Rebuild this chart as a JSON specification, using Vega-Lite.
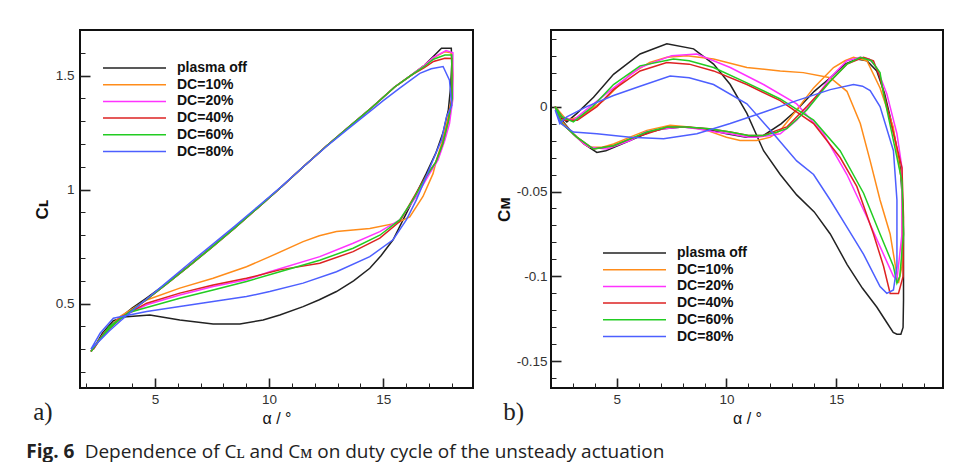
{
  "$schema": "https://vega.github.io/schema/vega-lite/v6.json",
  "background": "white",
  "padding": {"left": 26, "top": 29, "right": 0, "bottom": 0},
  "bounds": "flush",
  "spacing": 78,
  "title": {
    "text": "Fig. 6",
    "subtitle": "\u2800\u00a0\u00a0\u00a0\u00a0\u00a0\u00a0\u00a0\u00a0\u00a0Dependence of C\u029f and C\u1d0d on duty cycle of the unsteady actuation",
    "orient": "bottom", "anchor": "start", "frame": "bounds",
    "font": "Open Sans", "fontSize": 19, "fontWeight": "bold", "color": "#222",
    "subtitleFont": "Open Sans", "subtitleFontSize": 19, "subtitleFontWeight": "normal", "subtitleColor": "#222",
    "subtitlePadding": -19, "dx": -6, "offset": 15
  },
  "datasets": {
    "cl": [
      {"s":"plasma off","i":0,"a":2.2,"v":0.29},{"s":"plasma off","i":1,"a":2.6,"v":0.348},{"s":"plasma off","i":2,"a":3.0,"v":0.395},{"s":"plasma off","i":3,"a":3.5,"v":0.44},{"s":"plasma off","i":4,"a":4.0,"v":0.48},{"s":"plasma off","i":5,"a":4.6,"v":0.522},{"s":"plasma off","i":6,"a":5.5,"v":0.588},{"s":"plasma off","i":7,"a":6.5,"v":0.667},{"s":"plasma off","i":8,"a":7.5,"v":0.749},{"s":"plasma off","i":9,"a":8.5,"v":0.833},{"s":"plasma off","i":10,"a":9.5,"v":0.92},{"s":"plasma off","i":11,"a":10.5,"v":1.008},{"s":"plasma off","i":12,"a":11.5,"v":1.1},{"s":"plasma off","i":13,"a":12.5,"v":1.19},{"s":"plasma off","i":14,"a":13.5,"v":1.275},{"s":"plasma off","i":15,"a":14.5,"v":1.36},{"s":"plasma off","i":16,"a":15.5,"v":1.45},{"s":"plasma off","i":17,"a":16.2,"v":1.5},{"s":"plasma off","i":18,"a":16.8,"v":1.545},{"s":"plasma off","i":19,"a":17.2,"v":1.585},{"s":"plasma off","i":20,"a":17.55,"v":1.62},{"s":"plasma off","i":21,"a":17.98,"v":1.62},{"s":"plasma off","i":22,"a":18.0,"v":1.55},{"s":"plasma off","i":23,"a":17.95,"v":1.45},{"s":"plasma off","i":24,"a":17.85,"v":1.35},{"s":"plasma off","i":25,"a":17.62,"v":1.25},{"s":"plasma off","i":26,"a":17.3,"v":1.16},{"s":"plasma off","i":27,"a":16.88,"v":1.07},{"s":"plasma off","i":28,"a":16.45,"v":0.984},{"s":"plasma off","i":29,"a":16.01,"v":0.896},{"s":"plasma off","i":30,"a":15.43,"v":0.78},{"s":"plasma off","i":31,"a":14.9,"v":0.71},{"s":"plasma off","i":32,"a":14.41,"v":0.655},{"s":"plasma off","i":33,"a":13.7,"v":0.6},{"s":"plasma off","i":34,"a":12.95,"v":0.553},{"s":"plasma off","i":35,"a":12.2,"v":0.517},{"s":"plasma off","i":36,"a":11.49,"v":0.487},{"s":"plasma off","i":37,"a":10.47,"v":0.45},{"s":"plasma off","i":38,"a":9.74,"v":0.428},{"s":"plasma off","i":39,"a":8.72,"v":0.411},{"s":"plasma off","i":40,"a":7.55,"v":0.411},{"s":"plasma off","i":41,"a":6.09,"v":0.428},{"s":"plasma off","i":42,"a":4.78,"v":0.45},{"s":"plasma off","i":43,"a":3.76,"v":0.443},{"s":"plasma off","i":44,"a":3.18,"v":0.425},{"s":"plasma off","i":45,"a":2.7,"v":0.37},{"s":"plasma off","i":46,"a":2.3,"v":0.3},
      {"s":"DC=10%","i":0,"a":2.2,"v":0.29},{"s":"DC=10%","i":1,"a":2.6,"v":0.345},{"s":"DC=10%","i":2,"a":3.0,"v":0.39},{"s":"DC=10%","i":3,"a":3.5,"v":0.435},{"s":"DC=10%","i":4,"a":4.0,"v":0.472},{"s":"DC=10%","i":5,"a":4.6,"v":0.515},{"s":"DC=10%","i":6,"a":5.5,"v":0.585},{"s":"DC=10%","i":7,"a":6.5,"v":0.665},{"s":"DC=10%","i":8,"a":7.5,"v":0.748},{"s":"DC=10%","i":9,"a":8.5,"v":0.832},{"s":"DC=10%","i":10,"a":9.5,"v":0.92},{"s":"DC=10%","i":11,"a":10.5,"v":1.008},{"s":"DC=10%","i":12,"a":11.5,"v":1.1},{"s":"DC=10%","i":13,"a":12.5,"v":1.19},{"s":"DC=10%","i":14,"a":13.5,"v":1.275},{"s":"DC=10%","i":15,"a":14.5,"v":1.36},{"s":"DC=10%","i":16,"a":15.5,"v":1.45},{"s":"DC=10%","i":17,"a":16.2,"v":1.5},{"s":"DC=10%","i":18,"a":16.8,"v":1.545},{"s":"DC=10%","i":19,"a":17.2,"v":1.578},{"s":"DC=10%","i":20,"a":17.7,"v":1.605},{"s":"DC=10%","i":21,"a":17.98,"v":1.6},{"s":"DC=10%","i":22,"a":18.05,"v":1.5},{"s":"DC=10%","i":23,"a":18.0,"v":1.4},{"s":"DC=10%","i":24,"a":17.8,"v":1.3},{"s":"DC=10%","i":25,"a":17.55,"v":1.2},{"s":"DC=10%","i":26,"a":17.33,"v":1.13},{"s":"DC=10%","i":27,"a":17.18,"v":1.07},{"s":"DC=10%","i":28,"a":16.74,"v":0.97},{"s":"DC=10%","i":29,"a":16.16,"v":0.88},{"s":"DC=10%","i":30,"a":15.58,"v":0.853},{"s":"DC=10%","i":31,"a":14.41,"v":0.83},{"s":"DC=10%","i":32,"a":12.95,"v":0.816},{"s":"DC=10%","i":33,"a":12.2,"v":0.798},{"s":"DC=10%","i":34,"a":11.49,"v":0.772},{"s":"DC=10%","i":35,"a":10.03,"v":0.706},{"s":"DC=10%","i":36,"a":9.01,"v":0.662},{"s":"DC=10%","i":37,"a":7.55,"v":0.611},{"s":"DC=10%","i":38,"a":6.09,"v":0.568},{"s":"DC=10%","i":39,"a":4.64,"v":0.516},{"s":"DC=10%","i":40,"a":3.5,"v":0.445},{"s":"DC=10%","i":41,"a":2.8,"v":0.375},{"s":"DC=10%","i":42,"a":2.3,"v":0.3},
      {"s":"DC=20%","i":0,"a":2.2,"v":0.29},{"s":"DC=20%","i":1,"a":2.6,"v":0.345},{"s":"DC=20%","i":2,"a":3.0,"v":0.39},{"s":"DC=20%","i":3,"a":3.5,"v":0.435},{"s":"DC=20%","i":4,"a":4.0,"v":0.472},{"s":"DC=20%","i":5,"a":4.6,"v":0.515},{"s":"DC=20%","i":6,"a":5.5,"v":0.585},{"s":"DC=20%","i":7,"a":6.5,"v":0.665},{"s":"DC=20%","i":8,"a":7.5,"v":0.748},{"s":"DC=20%","i":9,"a":8.5,"v":0.832},{"s":"DC=20%","i":10,"a":9.5,"v":0.92},{"s":"DC=20%","i":11,"a":10.5,"v":1.008},{"s":"DC=20%","i":12,"a":11.5,"v":1.1},{"s":"DC=20%","i":13,"a":12.5,"v":1.19},{"s":"DC=20%","i":14,"a":13.5,"v":1.275},{"s":"DC=20%","i":15,"a":14.5,"v":1.36},{"s":"DC=20%","i":16,"a":15.5,"v":1.45},{"s":"DC=20%","i":17,"a":16.2,"v":1.5},{"s":"DC=20%","i":18,"a":16.8,"v":1.545},{"s":"DC=20%","i":19,"a":17.2,"v":1.58},{"s":"DC=20%","i":20,"a":17.75,"v":1.61},{"s":"DC=20%","i":21,"a":18.05,"v":1.6},{"s":"DC=20%","i":22,"a":18.05,"v":1.4},{"s":"DC=20%","i":23,"a":17.9,"v":1.29},{"s":"DC=20%","i":24,"a":17.7,"v":1.218},{"s":"DC=20%","i":25,"a":17.4,"v":1.13},{"s":"DC=20%","i":26,"a":17.03,"v":1.07},{"s":"DC=20%","i":27,"a":16.45,"v":0.97},{"s":"DC=20%","i":28,"a":15.72,"v":0.867},{"s":"DC=20%","i":29,"a":14.85,"v":0.816},{"s":"DC=20%","i":30,"a":13.68,"v":0.765},{"s":"DC=20%","i":31,"a":12.22,"v":0.706},{"s":"DC=20%","i":32,"a":10.03,"v":0.64},{"s":"DC=20%","i":33,"a":9.01,"v":0.605},{"s":"DC=20%","i":34,"a":7.55,"v":0.575},{"s":"DC=20%","i":35,"a":6.09,"v":0.538},{"s":"DC=20%","i":36,"a":4.64,"v":0.495},{"s":"DC=20%","i":37,"a":3.5,"v":0.44},{"s":"DC=20%","i":38,"a":2.8,"v":0.375},{"s":"DC=20%","i":39,"a":2.3,"v":0.3},
      {"s":"DC=40%","i":0,"a":2.2,"v":0.29},{"s":"DC=40%","i":1,"a":2.6,"v":0.345},{"s":"DC=40%","i":2,"a":3.0,"v":0.39},{"s":"DC=40%","i":3,"a":3.5,"v":0.435},{"s":"DC=40%","i":4,"a":4.0,"v":0.472},{"s":"DC=40%","i":5,"a":4.6,"v":0.515},{"s":"DC=40%","i":6,"a":5.5,"v":0.585},{"s":"DC=40%","i":7,"a":6.5,"v":0.665},{"s":"DC=40%","i":8,"a":7.5,"v":0.748},{"s":"DC=40%","i":9,"a":8.5,"v":0.832},{"s":"DC=40%","i":10,"a":9.5,"v":0.92},{"s":"DC=40%","i":11,"a":10.5,"v":1.008},{"s":"DC=40%","i":12,"a":11.5,"v":1.1},{"s":"DC=40%","i":13,"a":12.5,"v":1.19},{"s":"DC=40%","i":14,"a":13.5,"v":1.275},{"s":"DC=40%","i":15,"a":14.5,"v":1.36},{"s":"DC=40%","i":16,"a":15.5,"v":1.45},{"s":"DC=40%","i":17,"a":16.2,"v":1.5},{"s":"DC=40%","i":18,"a":16.8,"v":1.535},{"s":"DC=40%","i":19,"a":17.2,"v":1.562},{"s":"DC=40%","i":20,"a":17.7,"v":1.576},{"s":"DC=40%","i":21,"a":18.0,"v":1.575},{"s":"DC=40%","i":22,"a":18.0,"v":1.4},{"s":"DC=40%","i":23,"a":17.85,"v":1.3},{"s":"DC=40%","i":24,"a":17.6,"v":1.2},{"s":"DC=40%","i":25,"a":17.3,"v":1.12},{"s":"DC=40%","i":26,"a":16.88,"v":1.06},{"s":"DC=40%","i":27,"a":16.3,"v":0.96},{"s":"DC=40%","i":28,"a":15.72,"v":0.86},{"s":"DC=40%","i":29,"a":14.85,"v":0.787},{"s":"DC=40%","i":30,"a":13.68,"v":0.728},{"s":"DC=40%","i":31,"a":12.22,"v":0.677},{"s":"DC=40%","i":32,"a":10.47,"v":0.648},{"s":"DC=40%","i":33,"a":9.01,"v":0.611},{"s":"DC=40%","i":34,"a":7.55,"v":0.582},{"s":"DC=40%","i":35,"a":6.09,"v":0.546},{"s":"DC=40%","i":36,"a":4.64,"v":0.502},{"s":"DC=40%","i":37,"a":3.5,"v":0.44},{"s":"DC=40%","i":38,"a":2.8,"v":0.375},{"s":"DC=40%","i":39,"a":2.3,"v":0.3},
      {"s":"DC=60%","i":0,"a":2.2,"v":0.29},{"s":"DC=60%","i":1,"a":2.6,"v":0.345},{"s":"DC=60%","i":2,"a":3.0,"v":0.39},{"s":"DC=60%","i":3,"a":3.5,"v":0.435},{"s":"DC=60%","i":4,"a":4.0,"v":0.472},{"s":"DC=60%","i":5,"a":4.6,"v":0.515},{"s":"DC=60%","i":6,"a":5.5,"v":0.585},{"s":"DC=60%","i":7,"a":6.5,"v":0.665},{"s":"DC=60%","i":8,"a":7.5,"v":0.748},{"s":"DC=60%","i":9,"a":8.5,"v":0.832},{"s":"DC=60%","i":10,"a":9.5,"v":0.92},{"s":"DC=60%","i":11,"a":10.5,"v":1.008},{"s":"DC=60%","i":12,"a":11.5,"v":1.1},{"s":"DC=60%","i":13,"a":12.5,"v":1.19},{"s":"DC=60%","i":14,"a":13.5,"v":1.275},{"s":"DC=60%","i":15,"a":14.5,"v":1.36},{"s":"DC=60%","i":16,"a":15.5,"v":1.45},{"s":"DC=60%","i":17,"a":16.2,"v":1.5},{"s":"DC=60%","i":18,"a":16.8,"v":1.54},{"s":"DC=60%","i":19,"a":17.2,"v":1.572},{"s":"DC=60%","i":20,"a":17.7,"v":1.59},{"s":"DC=60%","i":21,"a":18.0,"v":1.59},{"s":"DC=60%","i":22,"a":18.02,"v":1.4},{"s":"DC=60%","i":23,"a":17.85,"v":1.3},{"s":"DC=60%","i":24,"a":17.6,"v":1.2},{"s":"DC=60%","i":25,"a":17.3,"v":1.12},{"s":"DC=60%","i":26,"a":16.88,"v":1.057},{"s":"DC=60%","i":27,"a":16.3,"v":0.955},{"s":"DC=60%","i":28,"a":15.72,"v":0.867},{"s":"DC=60%","i":29,"a":14.85,"v":0.8},{"s":"DC=60%","i":30,"a":13.68,"v":0.743},{"s":"DC=60%","i":31,"a":12.22,"v":0.69},{"s":"DC=60%","i":32,"a":10.47,"v":0.64},{"s":"DC=60%","i":33,"a":9.01,"v":0.597},{"s":"DC=60%","i":34,"a":7.55,"v":0.56},{"s":"DC=60%","i":35,"a":6.09,"v":0.524},{"s":"DC=60%","i":36,"a":3.9,"v":0.462},{"s":"DC=60%","i":37,"a":3.0,"v":0.4},{"s":"DC=60%","i":38,"a":2.5,"v":0.33},{"s":"DC=60%","i":39,"a":2.2,"v":0.29},
      {"s":"DC=80%","i":0,"a":2.2,"v":0.3},{"s":"DC=80%","i":1,"a":2.6,"v":0.34},{"s":"DC=80%","i":2,"a":3.0,"v":0.38},{"s":"DC=80%","i":3,"a":3.5,"v":0.425},{"s":"DC=80%","i":4,"a":4.0,"v":0.468},{"s":"DC=80%","i":5,"a":4.6,"v":0.517},{"s":"DC=80%","i":6,"a":5.5,"v":0.592},{"s":"DC=80%","i":7,"a":6.5,"v":0.676},{"s":"DC=80%","i":8,"a":7.5,"v":0.758},{"s":"DC=80%","i":9,"a":8.5,"v":0.84},{"s":"DC=80%","i":10,"a":9.5,"v":0.925},{"s":"DC=80%","i":11,"a":10.5,"v":1.01},{"s":"DC=80%","i":12,"a":11.5,"v":1.1},{"s":"DC=80%","i":13,"a":12.5,"v":1.188},{"s":"DC=80%","i":14,"a":13.5,"v":1.27},{"s":"DC=80%","i":15,"a":14.5,"v":1.35},{"s":"DC=80%","i":16,"a":15.0,"v":1.39},{"s":"DC=80%","i":17,"a":15.72,"v":1.445},{"s":"DC=80%","i":18,"a":16.6,"v":1.51},{"s":"DC=80%","i":19,"a":17.1,"v":1.53},{"s":"DC=80%","i":20,"a":17.62,"v":1.54},{"s":"DC=80%","i":21,"a":17.9,"v":1.48},{"s":"DC=80%","i":22,"a":18.0,"v":1.37},{"s":"DC=80%","i":23,"a":17.77,"v":1.32},{"s":"DC=80%","i":24,"a":17.55,"v":1.218},{"s":"DC=80%","i":25,"a":17.18,"v":1.13},{"s":"DC=80%","i":26,"a":16.88,"v":1.057},{"s":"DC=80%","i":27,"a":16.45,"v":0.955},{"s":"DC=80%","i":28,"a":16.01,"v":0.867},{"s":"DC=80%","i":29,"a":15.43,"v":0.78},{"s":"DC=80%","i":30,"a":14.41,"v":0.706},{"s":"DC=80%","i":31,"a":12.95,"v":0.64},{"s":"DC=80%","i":32,"a":11.49,"v":0.59},{"s":"DC=80%","i":33,"a":10.03,"v":0.553},{"s":"DC=80%","i":34,"a":9.01,"v":0.531},{"s":"DC=80%","i":35,"a":7.55,"v":0.509},{"s":"DC=80%","i":36,"a":6.09,"v":0.487},{"s":"DC=80%","i":37,"a":4.64,"v":0.465},{"s":"DC=80%","i":38,"a":3.18,"v":0.436},{"s":"DC=80%","i":39,"a":2.6,"v":0.37},{"s":"DC=80%","i":40,"a":2.2,"v":0.3}
    ],
    "cm": [
      {"s":"plasma off","i":0,"a":2.19,"v":0.0},{"s":"plasma off","i":1,"a":2.5,"v":-0.008},{"s":"plasma off","i":2,"a":3.0,"v":-0.016},{"s":"plasma off","i":3,"a":3.5,"v":-0.022},{"s":"plasma off","i":4,"a":4.09,"v":-0.027},{"s":"plasma off","i":5,"a":4.5,"v":-0.026},{"s":"plasma off","i":6,"a":5.6,"v":-0.02},{"s":"plasma off","i":7,"a":6.5,"v":-0.015},{"s":"plasma off","i":8,"a":7.13,"v":-0.013},{"s":"plasma off","i":9,"a":8.0,"v":-0.012},{"s":"plasma off","i":10,"a":9.0,"v":-0.013},{"s":"plasma off","i":11,"a":10.0,"v":-0.016},{"s":"plasma off","i":12,"a":10.9,"v":-0.018},{"s":"plasma off","i":13,"a":11.69,"v":-0.017},{"s":"plasma off","i":14,"a":12.5,"v":-0.01},{"s":"plasma off","i":15,"a":13.2,"v":-0.002},{"s":"plasma off","i":16,"a":14.0,"v":0.009},{"s":"plasma off","i":17,"a":14.73,"v":0.017},{"s":"plasma off","i":18,"a":15.4,"v":0.025},{"s":"plasma off","i":19,"a":15.94,"v":0.028},{"s":"plasma off","i":20,"a":16.4,"v":0.027},{"s":"plasma off","i":21,"a":16.85,"v":0.021},{"s":"plasma off","i":22,"a":17.2,"v":0.008},{"s":"plasma off","i":23,"a":17.46,"v":-0.006},{"s":"plasma off","i":24,"a":17.7,"v":-0.02},{"s":"plasma off","i":25,"a":17.92,"v":-0.036},{"s":"plasma off","i":26,"a":18.05,"v":-0.06},{"s":"plasma off","i":27,"a":18.07,"v":-0.075},{"s":"plasma off","i":28,"a":18.07,"v":-0.114},{"s":"plasma off","i":29,"a":18.05,"v":-0.13},{"s":"plasma off","i":30,"a":17.95,"v":-0.134},{"s":"plasma off","i":31,"a":17.77,"v":-0.134},{"s":"plasma off","i":32,"a":17.6,"v":-0.133},{"s":"plasma off","i":33,"a":17.3,"v":-0.127},{"s":"plasma off","i":34,"a":16.85,"v":-0.118},{"s":"plasma off","i":35,"a":16.2,"v":-0.107},{"s":"plasma off","i":36,"a":15.5,"v":-0.093},{"s":"plasma off","i":37,"a":14.73,"v":-0.075},{"s":"plasma off","i":38,"a":14.0,"v":-0.062},{"s":"plasma off","i":39,"a":13.2,"v":-0.052},{"s":"plasma off","i":40,"a":12.45,"v":-0.04},{"s":"plasma off","i":41,"a":11.69,"v":-0.026},{"s":"plasma off","i":42,"a":10.93,"v":-0.004},{"s":"plasma off","i":43,"a":10.17,"v":0.013},{"s":"plasma off","i":44,"a":9.41,"v":0.025},{"s":"plasma off","i":45,"a":8.5,"v":0.034},{"s":"plasma off","i":46,"a":7.28,"v":0.037},{"s":"plasma off","i":47,"a":6.06,"v":0.031},{"s":"plasma off","i":48,"a":4.85,"v":0.019},{"s":"plasma off","i":49,"a":3.94,"v":0.0055},{"s":"plasma off","i":50,"a":3.18,"v":-0.004},{"s":"plasma off","i":51,"a":2.72,"v":-0.009},{"s":"plasma off","i":52,"a":2.3,"v":-0.004},{"s":"plasma off","i":53,"a":2.19,"v":0.0},
      {"s":"DC=10%","i":0,"a":2.19,"v":0.0},{"s":"DC=10%","i":1,"a":2.5,"v":-0.009},{"s":"DC=10%","i":2,"a":3.02,"v":-0.016},{"s":"DC=10%","i":3,"a":3.5,"v":-0.022},{"s":"DC=10%","i":4,"a":3.78,"v":-0.024},{"s":"DC=10%","i":5,"a":4.3,"v":-0.024},{"s":"DC=10%","i":6,"a":4.85,"v":-0.022},{"s":"DC=10%","i":7,"a":5.6,"v":-0.018},{"s":"DC=10%","i":8,"a":6.37,"v":-0.014},{"s":"DC=10%","i":9,"a":7.43,"v":-0.011},{"s":"DC=10%","i":10,"a":8.3,"v":-0.012},{"s":"DC=10%","i":11,"a":9.1,"v":-0.014},{"s":"DC=10%","i":12,"a":10.0,"v":-0.018},{"s":"DC=10%","i":13,"a":10.62,"v":-0.02},{"s":"DC=10%","i":14,"a":11.38,"v":-0.02},{"s":"DC=10%","i":15,"a":12.0,"v":-0.018},{"s":"DC=10%","i":16,"a":12.45,"v":-0.014},{"s":"DC=10%","i":17,"a":13.2,"v":-0.002},{"s":"DC=10%","i":18,"a":13.97,"v":0.011},{"s":"DC=10%","i":19,"a":14.88,"v":0.023},{"s":"DC=10%","i":20,"a":15.4,"v":0.027},{"s":"DC=10%","i":21,"a":15.79,"v":0.029},{"s":"DC=10%","i":22,"a":16.4,"v":0.027},{"s":"DC=10%","i":23,"a":17.0,"v":0.011},{"s":"DC=10%","i":24,"a":17.6,"v":-0.012},{"s":"DC=10%","i":25,"a":18.0,"v":-0.045},{"s":"DC=10%","i":26,"a":18.0,"v":-0.094},{"s":"DC=10%","i":27,"a":17.84,"v":-0.104},{"s":"DC=10%","i":28,"a":17.69,"v":-0.093},{"s":"DC=10%","i":29,"a":17.46,"v":-0.075},{"s":"DC=10%","i":30,"a":17.0,"v":-0.055},{"s":"DC=10%","i":31,"a":16.55,"v":-0.032},{"s":"DC=10%","i":32,"a":16.1,"v":-0.01},{"s":"DC=10%","i":33,"a":15.49,"v":0.009},{"s":"DC=10%","i":34,"a":14.73,"v":0.017},{"s":"DC=10%","i":35,"a":13.5,"v":0.02},{"s":"DC=10%","i":36,"a":12.45,"v":0.021},{"s":"DC=10%","i":37,"a":10.93,"v":0.023},{"s":"DC=10%","i":38,"a":9.41,"v":0.028},{"s":"DC=10%","i":39,"a":8.19,"v":0.03},{"s":"DC=10%","i":40,"a":7.28,"v":0.029},{"s":"DC=10%","i":41,"a":6.5,"v":0.026},{"s":"DC=10%","i":42,"a":5.61,"v":0.019},{"s":"DC=10%","i":43,"a":4.39,"v":0.0035},{"s":"DC=10%","i":44,"a":3.33,"v":-0.006},{"s":"DC=10%","i":45,"a":2.72,"v":-0.008},{"s":"DC=10%","i":46,"a":2.19,"v":0.0},
      {"s":"DC=20%","i":0,"a":2.19,"v":0.0},{"s":"DC=20%","i":1,"a":2.5,"v":-0.01},{"s":"DC=20%","i":2,"a":3.02,"v":-0.016},{"s":"DC=20%","i":3,"a":3.5,"v":-0.022},{"s":"DC=20%","i":4,"a":3.78,"v":-0.024},{"s":"DC=20%","i":5,"a":4.54,"v":-0.025},{"s":"DC=20%","i":6,"a":5.61,"v":-0.02},{"s":"DC=20%","i":7,"a":6.3,"v":-0.015},{"s":"DC=20%","i":8,"a":7.13,"v":-0.013},{"s":"DC=20%","i":9,"a":8.0,"v":-0.012},{"s":"DC=20%","i":10,"a":8.65,"v":-0.013},{"s":"DC=20%","i":11,"a":9.5,"v":-0.015},{"s":"DC=20%","i":12,"a":10.17,"v":-0.016},{"s":"DC=20%","i":13,"a":11.0,"v":-0.018},{"s":"DC=20%","i":14,"a":11.38,"v":-0.018},{"s":"DC=20%","i":15,"a":12.0,"v":-0.017},{"s":"DC=20%","i":16,"a":12.45,"v":-0.016},{"s":"DC=20%","i":17,"a":13.2,"v":-0.008},{"s":"DC=20%","i":18,"a":13.97,"v":0.0035},{"s":"DC=20%","i":19,"a":14.73,"v":0.017},{"s":"DC=20%","i":20,"a":15.49,"v":0.027},{"s":"DC=20%","i":21,"a":16.1,"v":0.029},{"s":"DC=20%","i":22,"a":16.5,"v":0.028},{"s":"DC=20%","i":23,"a":16.85,"v":0.023},{"s":"DC=20%","i":24,"a":17.31,"v":0.0075},{"s":"DC=20%","i":25,"a":17.77,"v":-0.016},{"s":"DC=20%","i":26,"a":18.0,"v":-0.036},{"s":"DC=20%","i":27,"a":18.0,"v":-0.075},{"s":"DC=20%","i":28,"a":17.77,"v":-0.102},{"s":"DC=20%","i":29,"a":17.61,"v":-0.1},{"s":"DC=20%","i":30,"a":17.16,"v":-0.087},{"s":"DC=20%","i":31,"a":16.4,"v":-0.065},{"s":"DC=20%","i":32,"a":15.49,"v":-0.04},{"s":"DC=20%","i":33,"a":14.42,"v":-0.016},{"s":"DC=20%","i":34,"a":13.2,"v":0.0016},{"s":"DC=20%","i":35,"a":11.69,"v":0.013},{"s":"DC=20%","i":36,"a":10.17,"v":0.023},{"s":"DC=20%","i":37,"a":8.65,"v":0.031},{"s":"DC=20%","i":38,"a":7.5,"v":0.03},{"s":"DC=20%","i":39,"a":6.06,"v":0.023},{"s":"DC=20%","i":40,"a":4.85,"v":0.011},{"s":"DC=20%","i":41,"a":3.78,"v":0.0},{"s":"DC=20%","i":42,"a":3.02,"v":-0.008},{"s":"DC=20%","i":43,"a":2.5,"v":-0.006},{"s":"DC=20%","i":44,"a":2.19,"v":0.0},
      {"s":"DC=40%","i":0,"a":2.19,"v":0.0},{"s":"DC=40%","i":1,"a":2.5,"v":-0.01},{"s":"DC=40%","i":2,"a":3.18,"v":-0.018},{"s":"DC=40%","i":3,"a":3.94,"v":-0.025},{"s":"DC=40%","i":4,"a":4.85,"v":-0.023},{"s":"DC=40%","i":5,"a":5.6,"v":-0.019},{"s":"DC=40%","i":6,"a":6.37,"v":-0.016},{"s":"DC=40%","i":7,"a":7.3,"v":-0.012},{"s":"DC=40%","i":8,"a":8.19,"v":-0.012},{"s":"DC=40%","i":9,"a":9.2,"v":-0.013},{"s":"DC=40%","i":10,"a":10.17,"v":-0.015},{"s":"DC=40%","i":11,"a":11.0,"v":-0.017},{"s":"DC=40%","i":12,"a":11.69,"v":-0.017},{"s":"DC=40%","i":13,"a":12.3,"v":-0.014},{"s":"DC=40%","i":14,"a":12.75,"v":-0.012},{"s":"DC=40%","i":15,"a":13.66,"v":0.0},{"s":"DC=40%","i":16,"a":14.73,"v":0.015},{"s":"DC=40%","i":17,"a":15.49,"v":0.025},{"s":"DC=40%","i":18,"a":16.25,"v":0.029},{"s":"DC=40%","i":19,"a":16.7,"v":0.027},{"s":"DC=40%","i":20,"a":17.0,"v":0.017},{"s":"DC=40%","i":21,"a":17.54,"v":-0.012},{"s":"DC=40%","i":22,"a":18.0,"v":-0.036},{"s":"DC=40%","i":23,"a":18.07,"v":-0.065},{"s":"DC=40%","i":24,"a":18.05,"v":-0.1},{"s":"DC=40%","i":25,"a":17.84,"v":-0.11},{"s":"DC=40%","i":26,"a":17.46,"v":-0.11},{"s":"DC=40%","i":27,"a":17.16,"v":-0.094},{"s":"DC=40%","i":28,"a":16.7,"v":-0.075},{"s":"DC=40%","i":29,"a":15.94,"v":-0.047},{"s":"DC=40%","i":30,"a":15.18,"v":-0.03},{"s":"DC=40%","i":31,"a":13.97,"v":-0.01},{"s":"DC=40%","i":32,"a":12.45,"v":0.0035},{"s":"DC=40%","i":33,"a":10.93,"v":0.013},{"s":"DC=40%","i":34,"a":9.41,"v":0.021},{"s":"DC=40%","i":35,"a":8.3,"v":0.025},{"s":"DC=40%","i":36,"a":7.28,"v":0.026},{"s":"DC=40%","i":37,"a":6.06,"v":0.021},{"s":"DC=40%","i":38,"a":4.85,"v":0.01},{"s":"DC=40%","i":39,"a":4.09,"v":0.0},{"s":"DC=40%","i":40,"a":3.2,"v":-0.008},{"s":"DC=40%","i":41,"a":2.6,"v":-0.008},{"s":"DC=40%","i":42,"a":2.19,"v":0.0},
      {"s":"DC=60%","i":0,"a":2.19,"v":0.0},{"s":"DC=60%","i":1,"a":2.5,"v":-0.01},{"s":"DC=60%","i":2,"a":3.18,"v":-0.018},{"s":"DC=60%","i":3,"a":3.94,"v":-0.025},{"s":"DC=60%","i":4,"a":4.85,"v":-0.023},{"s":"DC=60%","i":5,"a":5.6,"v":-0.019},{"s":"DC=60%","i":6,"a":6.37,"v":-0.015},{"s":"DC=60%","i":7,"a":7.3,"v":-0.012},{"s":"DC=60%","i":8,"a":8.19,"v":-0.012},{"s":"DC=60%","i":9,"a":9.2,"v":-0.013},{"s":"DC=60%","i":10,"a":10.17,"v":-0.015},{"s":"DC=60%","i":11,"a":11.0,"v":-0.017},{"s":"DC=60%","i":12,"a":11.69,"v":-0.017},{"s":"DC=60%","i":13,"a":12.3,"v":-0.015},{"s":"DC=60%","i":14,"a":12.75,"v":-0.013},{"s":"DC=60%","i":15,"a":13.66,"v":-0.002},{"s":"DC=60%","i":16,"a":14.73,"v":0.015},{"s":"DC=60%","i":17,"a":15.49,"v":0.025},{"s":"DC=60%","i":18,"a":16.1,"v":0.029},{"s":"DC=60%","i":19,"a":16.6,"v":0.027},{"s":"DC=60%","i":20,"a":17.0,"v":0.02},{"s":"DC=60%","i":21,"a":17.16,"v":0.0075},{"s":"DC=60%","i":22,"a":17.61,"v":-0.02},{"s":"DC=60%","i":23,"a":18.0,"v":-0.044},{"s":"DC=60%","i":24,"a":18.07,"v":-0.075},{"s":"DC=60%","i":25,"a":17.9,"v":-0.1},{"s":"DC=60%","i":26,"a":17.77,"v":-0.104},{"s":"DC=60%","i":27,"a":17.61,"v":-0.094},{"s":"DC=60%","i":28,"a":17.0,"v":-0.075},{"s":"DC=60%","i":29,"a":16.25,"v":-0.051},{"s":"DC=60%","i":30,"a":15.18,"v":-0.026},{"s":"DC=60%","i":31,"a":13.97,"v":-0.008},{"s":"DC=60%","i":32,"a":12.45,"v":0.0045},{"s":"DC=60%","i":33,"a":10.93,"v":0.014},{"s":"DC=60%","i":34,"a":9.41,"v":0.023},{"s":"DC=60%","i":35,"a":8.3,"v":0.027},{"s":"DC=60%","i":36,"a":7.58,"v":0.028},{"s":"DC=60%","i":37,"a":6.06,"v":0.024},{"s":"DC=60%","i":38,"a":4.85,"v":0.013},{"s":"DC=60%","i":39,"a":3.9,"v":0.0},{"s":"DC=60%","i":40,"a":3.02,"v":-0.009},{"s":"DC=60%","i":41,"a":2.5,"v":-0.006},{"s":"DC=60%","i":42,"a":2.19,"v":0.0},
      {"s":"DC=80%","i":0,"a":2.19,"v":-0.002},{"s":"DC=80%","i":1,"a":2.45,"v":-0.01},{"s":"DC=80%","i":2,"a":3.02,"v":-0.015},{"s":"DC=80%","i":3,"a":4.09,"v":-0.016},{"s":"DC=80%","i":4,"a":5.61,"v":-0.018},{"s":"DC=80%","i":5,"a":7.13,"v":-0.019},{"s":"DC=80%","i":6,"a":8.65,"v":-0.016},{"s":"DC=80%","i":7,"a":10.17,"v":-0.01},{"s":"DC=80%","i":8,"a":11.69,"v":-0.0033},{"s":"DC=80%","i":9,"a":13.2,"v":0.0035},{"s":"DC=80%","i":10,"a":14.73,"v":0.01},{"s":"DC=80%","i":11,"a":15.79,"v":0.013},{"s":"DC=80%","i":12,"a":16.2,"v":0.012},{"s":"DC=80%","i":13,"a":16.55,"v":0.0094},{"s":"DC=80%","i":14,"a":17.0,"v":0.0},{"s":"DC=80%","i":15,"a":17.61,"v":-0.026},{"s":"DC=80%","i":16,"a":17.77,"v":-0.055},{"s":"DC=80%","i":17,"a":17.77,"v":-0.094},{"s":"DC=80%","i":18,"a":17.61,"v":-0.108},{"s":"DC=80%","i":19,"a":17.31,"v":-0.11},{"s":"DC=80%","i":20,"a":17.0,"v":-0.106},{"s":"DC=80%","i":21,"a":16.25,"v":-0.087},{"s":"DC=80%","i":22,"a":15.49,"v":-0.071},{"s":"DC=80%","i":23,"a":14.73,"v":-0.055},{"s":"DC=80%","i":24,"a":13.97,"v":-0.04},{"s":"DC=80%","i":25,"a":13.2,"v":-0.032},{"s":"DC=80%","i":26,"a":12.14,"v":-0.016},{"s":"DC=80%","i":27,"a":10.93,"v":0.0016},{"s":"DC=80%","i":28,"a":9.41,"v":0.013},{"s":"DC=80%","i":29,"a":8.3,"v":0.017},{"s":"DC=80%","i":30,"a":7.43,"v":0.018},{"s":"DC=80%","i":31,"a":6.06,"v":0.012},{"s":"DC=80%","i":32,"a":4.85,"v":0.0065},{"s":"DC=80%","i":33,"a":3.63,"v":0.0},{"s":"DC=80%","i":34,"a":2.72,"v":-0.006},{"s":"DC=80%","i":35,"a":2.4,"v":-0.01},{"s":"DC=80%","i":36,"a":2.19,"v":-0.002}
    ]
  },
  "resolve": {
    "scale": {"x": "independent", "y": "independent", "color": "independent"},
    "legend": {"color": "independent"}
  },
  "hconcat": [
    {
      "width": 393, "height": 358,
      "title": {"text": "a)", "orient": "bottom", "anchor": "start", "frame": "bounds", "font": "Liberation Serif", "fontSize": 25, "fontWeight": "normal", "color": "#222", "offset": -27},
      "data": {"name": "cl"},
      "mark": {"type": "line", "strokeWidth": 1.5},
      "encoding": {
        "x": {"field": "a", "type": "quantitative",
          "scale": {"domain": [1.72, 18.93], "nice": false, "zero": false},
          "axis": {"title": "\u03b1 / \u00b0", "titleFontSize": 16, "titleFontWeight": "normal", "titlePadding": 0,
            "values": [2,3,4,5,6,7,8,9,10,11,12,13,14,15,16,17,18],
            "labelExpr": "datum.value % 5 === 0 ? toString(datum.value) : ''",
            "tickSize": {"condition": {"test": "datum.value % 5 === 0", "value": -10}, "value": -5},
            "tickWidth": {"condition": {"test": "datum.value % 5 === 0", "value": 1.6}, "value": 1},
            "labelPadding": 14}},
        "y": {"field": "v", "type": "quantitative",
          "scale": {"domain": [0.13, 1.7], "nice": false, "zero": false},
          "axis": {"title": "C\u029f", "titleFontSize": 17, "titleFontWeight": "bold", "titlePadding": 4,
            "values": [0.2,0.3,0.4,0.5,0.6,0.7,0.8,0.9,1.0,1.1,1.2,1.3,1.4,1.5,1.6],
            "labelExpr": "abs(datum.value*2 - round(datum.value*2)) < 1e-6 ? toString(datum.value) : ''",
            "tickSize": {"condition": {"test": "abs(datum.value*2 - round(datum.value*2)) < 1e-6", "value": -10}, "value": -5},
            "tickWidth": {"condition": {"test": "abs(datum.value*2 - round(datum.value*2)) < 1e-6", "value": 1.6}, "value": 1},
            "labelPadding": 16}},
        "color": {"field": "s", "type": "nominal",
          "scale": {"domain": ["plasma off","DC=10%","DC=20%","DC=40%","DC=60%","DC=80%"], "range": ["#222222","#ff8c1a","#ff33ff","#dd2222","#22cc22","#4d5fff"]},
          "legend": {"orient": "none", "legendX": 22, "legendY": 31}},
        "order": {"field": "i", "type": "quantitative"}
      }
    },
    {
      "width": 392, "height": 358,
      "title": {"text": "b)", "orient": "bottom", "anchor": "start", "frame": "bounds", "font": "Liberation Serif", "fontSize": 25, "fontWeight": "normal", "color": "#222", "offset": -27, "dx": 8},
      "data": {"name": "cm"},
      "mark": {"type": "line", "strokeWidth": 1.5},
      "encoding": {
        "x": {"field": "a", "type": "quantitative",
          "scale": {"domain": [2.0, 19.87], "nice": false, "zero": false},
          "axis": {"title": "\u03b1 / \u00b0", "titleFontSize": 16, "titleFontWeight": "normal", "titlePadding": 0,
            "values": [3,4,5,6,7,8,9,10,11,12,13,14,15,16,17,18,19],
            "labelExpr": "datum.value % 5 === 0 ? toString(datum.value) : ''",
            "tickSize": {"condition": {"test": "datum.value % 5 === 0", "value": -10}, "value": -5},
            "tickWidth": {"condition": {"test": "datum.value % 5 === 0", "value": 1.6}, "value": 1},
            "labelPadding": 14}},
        "y": {"field": "v", "type": "quantitative",
          "scale": {"domain": [-0.1657, 0.0451], "nice": false, "zero": false},
          "axis": {"title": "C\u1d0d", "titleFontSize": 17, "titleFontWeight": "bold", "titlePadding": 3,
            "values": [-0.16,-0.15,-0.14,-0.13,-0.12,-0.11,-0.1,-0.09,-0.08,-0.07,-0.06,-0.05,-0.04,-0.03,-0.02,-0.01,0,0.01,0.02,0.03,0.04],
            "labelExpr": "abs(datum.value*20 - round(datum.value*20)) < 1e-6 ? toString(datum.value) : ''",
            "tickSize": {"condition": {"test": "abs(datum.value*20 - round(datum.value*20)) < 1e-6", "value": -10}, "value": -5},
            "tickWidth": {"condition": {"test": "abs(datum.value*20 - round(datum.value*20)) < 1e-6", "value": 1.6}, "value": 1},
            "labelPadding": 14}},
        "color": {"field": "s", "type": "nominal",
          "scale": {"domain": ["plasma off","DC=10%","DC=20%","DC=40%","DC=60%","DC=80%"], "range": ["#222222","#ff8c1a","#ff33ff","#dd2222","#22cc22","#4d5fff"]},
          "legend": {"orient": "none", "legendX": 51, "legendY": 216}},
        "order": {"field": "i", "type": "quantitative"}
      }
    }
  ],
  "config": {
    "font": "Liberation Sans",
    "view": {"stroke": "#111", "strokeWidth": 2},
    "axis": {"domain": false, "grid": false, "labelFont": "Liberation Sans", "labelFontSize": 13.5, "labelColor": "#333",
      "titleFont": "Liberation Sans", "titleColor": "#111", "tickColor": "#222", "labelOverlap": false, "labelFlush": false},
    "legend": {"title": null, "symbolType": "stroke", "symbolSize": 3969, "symbolStrokeWidth": 1.5,
      "labelFont": "Liberation Sans", "labelFontSize": 14, "labelFontWeight": "bold", "labelColor": "#111",
      "labelOffset": 10, "clipHeight": 14, "rowPadding": 2.7, "padding": 0}
  }
}
